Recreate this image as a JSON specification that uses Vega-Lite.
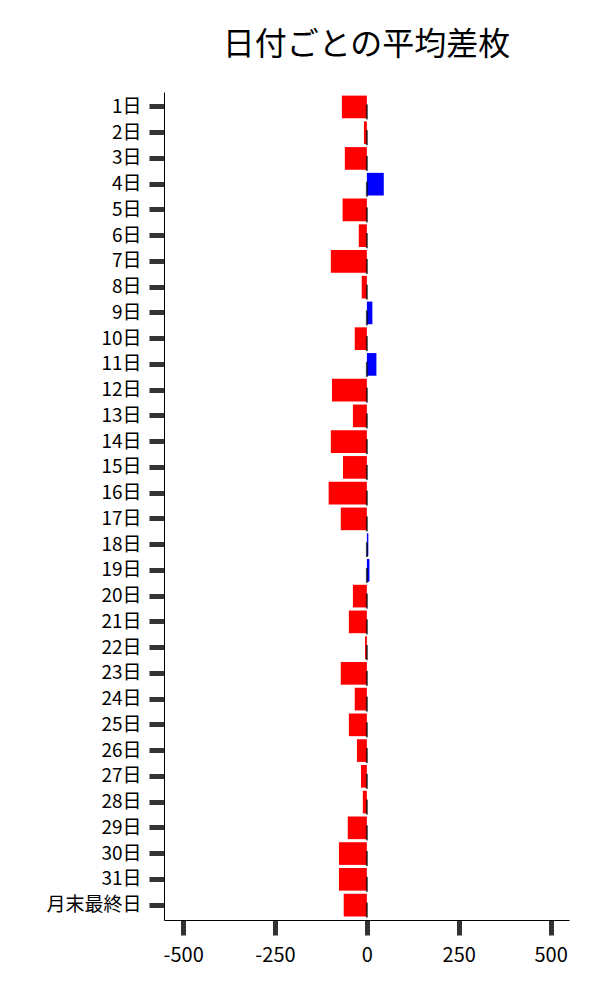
{
  "$schema": "https://vega.github.io/schema/vega-lite/v6.json",
  "autosize": {"type": "none"},
  "padding": {"left": 164, "top": 92, "right": 31, "bottom": 80},
  "width": 405,
  "height": 828,
  "title": {
    "text": "日付ごとの平均差枚",
    "font": "Noto Sans CJK JP",
    "fontSize": 32,
    "fontWeight": "normal",
    "color": "#000000",
    "anchor": "middle",
    "offset": 30
  },
  "config": {
    "view": {"stroke": null},
    "axis": {
      "labelFont": "Noto Sans CJK JP",
      "labelFontSize": 20,
      "labelColor": "#000000",
      "domainColor": "#000000",
      "domainWidth": 1,
      "tickColor": "#333333",
      "tickWidth": 5,
      "tickSize": 15,
      "grid": false,
      "title": null
    }
  },
  "data": {
    "values": [
      {"day": "1日", "v": -68},
      {"day": "2日", "v": -8},
      {"day": "3日", "v": -60},
      {"day": "4日", "v": 46},
      {"day": "5日", "v": -66},
      {"day": "6日", "v": -22},
      {"day": "7日", "v": -98},
      {"day": "8日", "v": -14},
      {"day": "9日", "v": 15},
      {"day": "10日", "v": -33},
      {"day": "11日", "v": 26},
      {"day": "12日", "v": -95},
      {"day": "13日", "v": -38},
      {"day": "14日", "v": -98},
      {"day": "15日", "v": -65},
      {"day": "16日", "v": -104},
      {"day": "17日", "v": -71},
      {"day": "18日", "v": 4},
      {"day": "19日", "v": 7},
      {"day": "20日", "v": -38},
      {"day": "21日", "v": -49},
      {"day": "22日", "v": -5},
      {"day": "23日", "v": -71},
      {"day": "24日", "v": -33},
      {"day": "25日", "v": -49},
      {"day": "26日", "v": -27},
      {"day": "27日", "v": -16},
      {"day": "28日", "v": -11},
      {"day": "29日", "v": -52},
      {"day": "30日", "v": -76},
      {"day": "31日", "v": -76},
      {"day": "月末最終日", "v": -63}
    ]
  },
  "encoding": {
    "y": {
      "field": "day",
      "type": "nominal",
      "sort": null,
      "scale": {"paddingInner": 0.12, "paddingOuter": 0.14},
      "axis": {"labelPadding": 8, "domain": true, "labelFontSize": 19}
    }
  },
  "layer": [
    {
      "mark": {"type": "bar"},
      "encoding": {
        "x": {
          "field": "v",
          "type": "quantitative",
          "scale": {"domain": [-552, 550], "nice": false, "zero": false},
          "axis": {"values": [-500, -250, 0, 250, 500], "labelPadding": 10, "labelExpr": "replace(datum.label, '−', '-')"}
        },
        "color": {
          "condition": {"test": "datum.v < 0", "value": "#ff0000"},
          "value": "#0000ff"
        }
      }
    },
    {
      "mark": {"type": "tick", "orient": "vertical", "color": "#000000", "thickness": 2, "size": 15, "yOffset": 5},
      "encoding": {
        "x": {"datum": 0, "type": "quantitative"}
      }
    }
  ]
}
